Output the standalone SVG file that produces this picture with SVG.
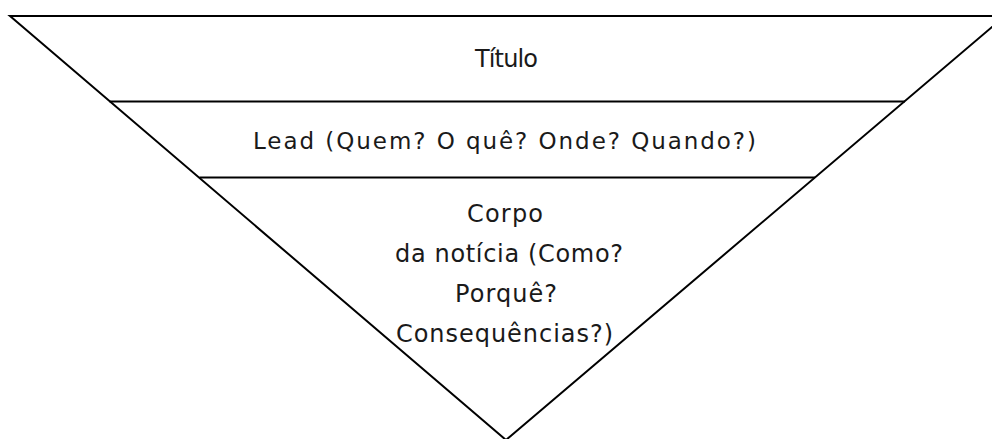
<svg xmlns="http://www.w3.org/2000/svg" width="992" height="439" viewBox="0 0 992 439">
<style>
.ln{fill:none;stroke:#000;stroke-width:2;stroke-linejoin:miter}
.t{font-family:"DejaVu Sans","Liberation Sans",sans-serif;fill:#1a1a1a;text-anchor:middle}
.big{font-size:24px}
.mid{font-size:23px}
</style>
<rect width="992" height="439" fill="#fff"/>
<g id="pyramid">
<polygon class="ln" points="10,16 1005,16 506,440"/>
<line class="ln" x1="109.5" y1="101.5" x2="905" y2="101.5"/>
<line class="ln" x1="199.5" y1="177.5" x2="815" y2="177.5"/>
</g>
<g id="titulo">
<text class="t big" x="506.5" y="67" textLength="63" lengthAdjust="spacing">Título</text>
</g>
<g id="lead">
<text class="t mid" x="504.5" y="148.5" textLength="503" lengthAdjust="spacing">Lead (Quem? O quê? Onde? Quando?)</text>
</g>
<g id="corpo">
<text class="t big" x="505" y="222" textLength="76" lengthAdjust="spacing">Corpo</text>
<text class="t big" x="509" y="262" textLength="228" lengthAdjust="spacing">da notícia (Como?</text>
<text class="t big" x="506" y="302" textLength="102" lengthAdjust="spacing">Porquê?</text>
<text class="t big" x="504.5" y="342" textLength="217" lengthAdjust="spacing">Consequências?)</text>
</g>
<g id="connectors"></g>
</svg>
